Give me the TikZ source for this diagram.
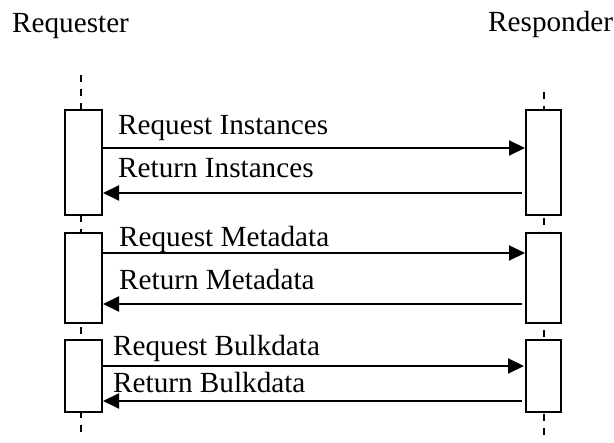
\documentclass[tikz,border=0pt]{standalone}
\usepackage{fontspec}
\setmainfont{Liberation Serif}
\usetikzlibrary{arrows.meta}

\begin{document}
\begin{tikzpicture}[x=1pt,y=-1pt,
    lifeline/.style={line width=2pt, dash pattern=on 7pt off 7pt},
    actbox/.style={draw, line width=2pt, fill=white, inner sep=0pt},
    msg/.style={line width=2pt, -{Triangle[length=16pt,width=15pt]}},
    lbl/.style={anchor=base west, inner sep=0pt, font=\fontsize{29.2}{35}\selectfont}]
    \useasboundingbox (0,0) rectangle (614,443);

    % Drawing the participants
    \node[lbl] (requester) at (12,33) {Requester};
    \node[lbl] (responder) at (488,32) {Responder};

    % Drawing the lifelines
    \coordinate (reqtop) at (81,75);
    \coordinate (reqbot) at (81,437);
    \coordinate (restop) at (544,92);
    \coordinate (resbot) at (544,441);
    \draw[lifeline] (reqtop) -- (reqbot);
    \draw[lifeline] (restop) -- (resbot);

    % Drawing the activation boxes
    \node[actbox, minimum width=37pt, minimum height=105pt] (req1) at (83.5,162.5) {};
    \node[actbox, minimum width=37pt, minimum height=90pt] (req2) at (83.5,278) {};
    \node[actbox, minimum width=37pt, minimum height=72pt] (req3) at (83.5,376) {};
    \node[actbox, minimum width=35pt, minimum height=105pt] (res1) at (543.5,162.5) {};
    \node[actbox, minimum width=35pt, minimum height=90pt] (res2) at (543.5,278) {};
    \node[actbox, minimum width=35pt, minimum height=72pt] (res3) at (543.5,376) {};

    % Drawing the instances exchange
    \draw[msg] (req1.east |- 0,148) -- (res1.west |- 0,148);
    \draw[msg] ([xshift=-3pt]res1.west |- 0,193) -- (req1.east |- 0,193);
    \node[lbl] (reqinst) at (118,135) {Request Instances};
    \node[lbl] (retinst) at (118,178) {Return Instances};

    % Drawing the metadata exchange
    \draw[msg] (req2.east |- 0,253) -- (res2.west |- 0,253);
    \draw[msg] ([xshift=-3pt]res2.west |- 0,304) -- (req2.east |- 0,304);
    \node[lbl] (reqmeta) at (119,247) {Request Metadata};
    \node[lbl] (retmeta) at (119,290) {Return Metadata};

    % Drawing the bulkdata exchange
    \draw[msg] (req3.east |- 0,366) -- ([xshift=-1pt]res3.west |- 0,366);
    \draw[msg] ([xshift=-3pt]res3.west |- 0,401) -- (req3.east |- 0,401);
    \node[lbl] (reqbulk) at (113,356) {Request Bulkdata};
    \node[lbl] (retbulk) at (113,393) {Return Bulkdata};

\end{tikzpicture}
\end{document}
